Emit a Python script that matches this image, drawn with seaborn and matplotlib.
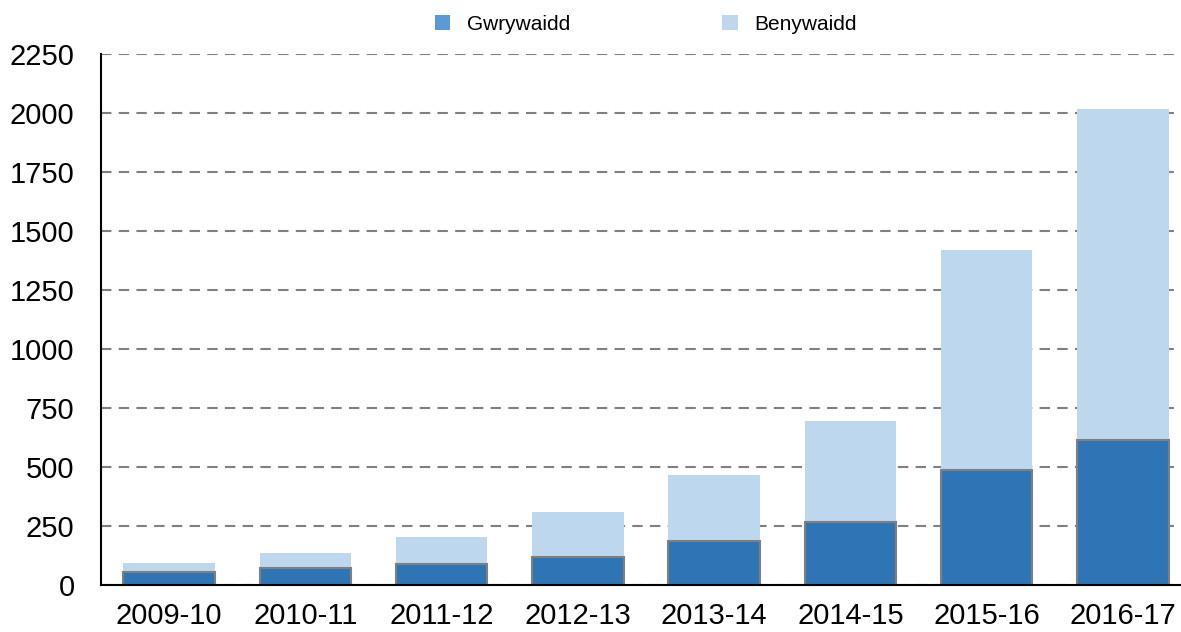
import numpy as np
import pandas as pd
import seaborn as sns
import matplotlib.pyplot as plt
from matplotlib.patches import Patch

years = ["2009-10", "2010-11", "2011-12", "2012-13",
         "2013-14", "2014-15", "2015-16", "2016-17"]
male = [54, 71, 88, 119, 186, 267, 489, 615]
female = [41, 65, 117, 191, 279, 430, 930, 1402]
y_ticks = [0, 250, 500, 750, 1000, 1250, 1500, 1750, 2000, 2250]

dark = "#2E75B6"
light = "#BDD7EE"
legend_dark = "#5B9BD5"


def main():
    sns.set_theme(style="white")
    plt.rcParams['font.family'] = ['Liberation Sans', 'DejaVu Sans']

    data = pd.DataFrame({"year": years, "male": male, "female": female})
    data["total"] = data["male"] + data["female"]

    fig = plt.figure(figsize=(11.81, 6.32), dpi=100)
    ax = fig.add_axes([101 / 1181, 47 / 632, 1090 / 1181, 531 / 632])

    sns.barplot(x="year", y="total", data=data, color=light, width=0.67,
                saturation=1, linewidth=0, ax=ax)
    sns.barplot(x="year", y="male", data=data, color=dark, width=0.67,
                saturation=1, edgecolor="#7F7F7F", linewidth=1.5, ax=ax)

    ax.set_xlim(-0.5, 7.5)
    ax.set_ylim(0, 2250)
    ax.set_yticks(y_ticks)
    ax.set_xlabel("")
    ax.set_ylabel("")
    ax.set_axisbelow(True)
    ax.yaxis.grid(True, color="#808080", linestyle=(0, (5, 3.5)), linewidth=1.5)
    ax.xaxis.grid(False)

    for side in ["top", "right"]:
        ax.spines[side].set_visible(False)
    for side in ["left", "bottom"]:
        ax.spines[side].set_color("black")
        ax.spines[side].set_linewidth(1.5)

    # x labels sit close to the bottom edge, as in the source
    ax.tick_params(axis="y", labelsize=21, pad=19, length=0, labelcolor="black")
    ax.tick_params(axis="x", labelsize=21, pad=12, length=0, labelcolor="black")

    handles = [Patch(facecolor=legend_dark, edgecolor="none", label="Gwrywaidd"),
               Patch(facecolor=light, edgecolor="none", label="Benywaidd")]
    leg = fig.legend(handles=handles, loc="center", bbox_to_anchor=(0.547, 0.962),
                     ncol=2, frameon=False, fontsize=15, handlelength=0.75,
                     handleheight=0.75, handletextpad=0.8, columnspacing=7.3)
    for t in leg.get_texts():
        t.set_color("black")

    plt.savefig("out.png", dpi=100)


if __name__ == '__main__':
    main()
